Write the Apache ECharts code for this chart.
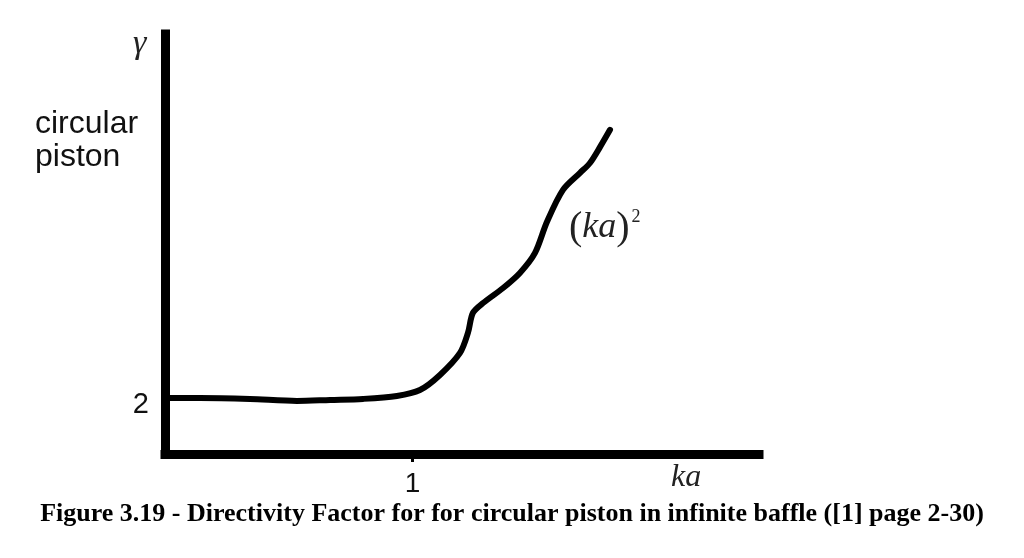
<!DOCTYPE html>
<html>
<head>
<meta charset="utf-8">
<script src="https://cdn.jsdelivr.net/npm/echarts@6/dist/echarts.min.js"></script>
<style>
html,body{margin:0;padding:0;background:#fff;}
#chart{width:1024px;height:558px;}
</style>
</head>
<body>
<div id="chart"></div>
<script>
// ka (x) values of the sketched curve
const kaValues = [0.012, 0.141, 0.343, 0.533, 0.667, 0.800, 0.937, 1.030, 1.111, 1.192, 1.224, 1.244, 1.285, 1.366, 1.434, 1.495, 1.543, 1.608, 1.677, 1.717, 1.758, 1.798];
// directivity factor gamma (y) values
const gammaValues = [2.27, 2.27, 2.23, 2.15, 2.19, 2.23, 2.35, 2.59, 3.20, 4.09, 4.90, 5.71, 6.11, 6.72, 7.33, 8.14, 9.39, 10.69, 11.38, 11.78, 12.43, 13.12];
// tick labels shown on the axes
const xTickValues = [1];
const yTickValues = [2];
const titleText = 'Figure 3.19 - Directivity Factor for for circular piston in infinite baffle ([1] page 2-30)';

const chart = echarts.init(document.getElementById('chart'));
const sans = '"Liberation Sans", Arial, sans-serif';
const serif = '"Liberation Serif", "Times New Roman", serif';

chart.setOption({
  backgroundColor: '#fff',
  animation: false,
  grid: { left: 165, right: 265, top: 34, bottom: 104 },
  xAxis: {
    type: 'value', min: 0, max: 2.4,
    splitLine: { show: false },
    axisLine: { show: true, lineStyle: { color: '#000', width: 9, cap: 'square' } },
    axisTick: { show: true, customValues: xTickValues, length: 8, lineStyle: { color: '#000', width: 3 } },
    axisLabel: { show: true, customValues: xTickValues, fontSize: 28, fontFamily: sans, color: '#111', margin: 16 }
  },
  yAxis: {
    type: 'value', min: 0, max: 17,
    splitLine: { show: false },
    axisLine: { show: true, lineStyle: { color: '#000', width: 9, cap: 'square' } },
    axisTick: { show: false },
    axisLabel: { show: true, customValues: yTickValues, fontSize: 29, fontFamily: sans, color: '#111', margin: 16 }
  },
  series: [{
    type: 'line',
    data: kaValues.map((k, i) => [k, gammaValues[i]]),
    smooth: 0.3,
    showSymbol: false,
    lineStyle: { color: '#000', width: 6, cap: 'round' }
  }],
  graphic: [
    { type: 'text', left: 133, top: 27, style: { text: 'γ', font: 'italic 34px ' + serif, fill: '#222' } },
    { type: 'text', left: 35, top: 108, style: { text: 'circular\npiston', font: '32px ' + sans, fill: '#111', lineHeight: 33 } },
    { type: 'text', left: 569, top: 208, style: {
        text: '{p|(}{i|ka}{p|)}{s|2}',
        rich: {
          p: { font: '40px ' + serif, fill: '#222' },
          i: { font: 'italic 36px ' + serif, fill: '#222' },
          s: { font: '18px ' + serif, fill: '#222', verticalAlign: 'top', padding: [0, 0, 22, 2] }
        }
      } },
    { type: 'text', left: 671, top: 462, style: { text: 'ka', font: 'italic 32px ' + serif, fill: '#222' } },
    { type: 'text', left: 'center', top: 501, style: { text: titleText, font: 'bold 26px ' + serif, fill: '#000' } }
  ]
});
</script>
</body>
</html>
